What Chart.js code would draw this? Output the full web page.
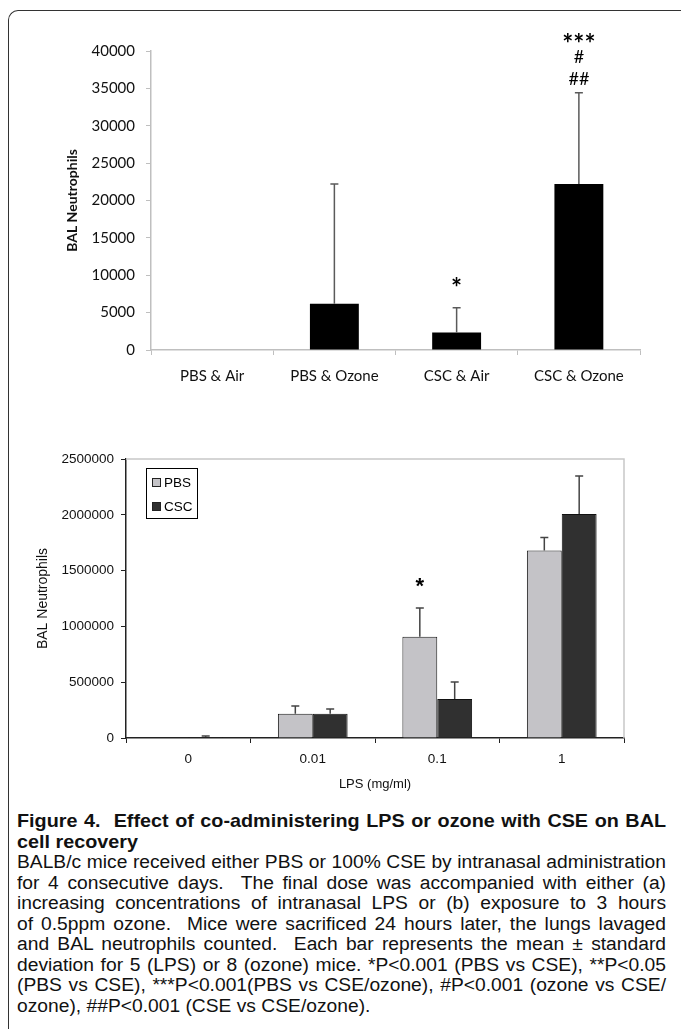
<!DOCTYPE html>
<html>
<head>
<meta charset="utf-8">
<script src="https://cdn.jsdelivr.net/npm/chart.js@4.4.1/dist/chart.umd.min.js"></script>
<style>
  html, body { margin: 0; padding: 0; background: #fff; }
  body { width: 681px; height: 1029px; position: relative; overflow: hidden; }
  .frame { position: absolute; left: 8px; top: 10px; width: 720px; height: 1060px;
           border-left: 1.5px solid #333; border-top: 1.5px solid #333; border-top-left-radius: 10px; }
  #ozoneBox { position: absolute; left: 0; top: 0; width: 681px; height: 410px; }
  #lpsBox { position: absolute; left: 0; top: 420px; width: 681px; height: 380px; }
  /* police étroite simulée par un scaleX calculé plus bas */
  .caption { position: absolute; left: 17px; top: 811px; width: 649px;
             transform-origin: 0 0;
             font-family: "Liberation Sans", Arial, sans-serif;
             font-size: 18px; line-height: 20.5px; color: #111; }
  .caption div { text-align: justify; text-align-last: justify; white-space: nowrap; }
  .caption div.last { text-align-last: left; }
  .caption .head { font-weight: bold; font-size: 18.5px; }
  .caption span { display: inline-block; }
</style>
</head>
<body>
<div class="frame"></div>
<div id="ozoneBox"><canvas id="ozoneChart"></canvas></div>
<div id="lpsBox"><canvas id="lpsChart"></canvas></div>
<div class="caption" id="caption">
  <div class="head">Figure 4.&nbsp; Effect of co-administering LPS or ozone with CSE on BAL</div>
  <div class="head last">cell recovery</div>
  <div>BALB/c mice received either PBS or 100% CSE by intranasal administration</div>
  <div>for 4 consecutive days.&nbsp; The final dose was accompanied with either (a)</div>
  <div>increasing concentrations of intranasal LPS or (b) exposure to 3 hours</div>
  <div>of 0.5ppm ozone.&nbsp; Mice were sacrificed 24 hours later, the lungs lavaged</div>
  <div>and BAL neutrophils counted.&nbsp; Each bar represents the mean ± standard</div>
  <div>deviation for 5 (LPS) or 8 (ozone) mice. *P&lt;0.001 (PBS vs CSE), **P&lt;0.05</div>
  <div>(PBS vs CSE), ***P&lt;0.001(PBS vs CSE/ozone), #P&lt;0.001 (ozone vs CSE/</div>
  <div class="last">ozone), ##P&lt;0.001 (CSE vs CSE/ozone).</div>
</div>
<script>
// Données du graphique (a) : ozone
const ozoneLabels = ["PBS & Air", "PBS & Ozone", "CSC & Air", "CSC & Ozone"];
const ozoneMeans = [0, 6200, 2350, 22200];
const ozoneSD = [0, 16000, 3300, 12200];
const ozoneMarks = ["", "", "*", "***\n#\n##"];

// Données du graphique (b) : LPS
const lpsLabels = ["0", "0.01", "0.1", "1"];
const pbsMeans = [0, 218000, 907000, 1681000];
const pbsSD = [0, 69000, 258000, 116000];
const cscMeans = [8000, 218000, 349000, 2007000];
const cscSD = [9000, 42000, 153000, 341000];
const lpsMarks = ["", "", "*", ""];

// Ajuste la largeur de la légende : la ligne la plus longue remplit juste la colonne
(function fitCaption() {
    const cap = document.getElementById("caption");
    const colWidth = 649;
    let maxW = 0;
    cap.querySelectorAll("div").forEach(d => {
        const s = document.createElement("span");
        s.innerHTML = d.innerHTML;
        d.innerHTML = "";
        d.appendChild(s);
        maxW = Math.max(maxW, s.getBoundingClientRect().width);
        d.innerHTML = s.innerHTML;
    });
    const k = colWidth / (maxW + 2);
    cap.style.width = (colWidth / k) + "px";
    cap.style.transform = "scaleX(" + k + ")";
})();

// Barres d'erreur (vers le haut seulement)
const errorBars = {
    id: "errorBars",
    afterDatasetsDraw(chart, args, opts) {
        const ctx = chart.ctx;
        const y = chart.scales.y;
        chart.data.datasets.forEach((ds, i) => {
            if (!ds.errors) return;
            chart.getDatasetMeta(i).data.forEach((bar, j) => {
                const sd = ds.errors[j];
                if (!sd) return;
                const top = y.getPixelForValue(ds.data[j] + sd);
                ctx.save();
                ctx.strokeStyle = opts.color;
                ctx.lineWidth = opts.width;
                ctx.beginPath();
                ctx.moveTo(bar.x, bar.y);
                ctx.lineTo(bar.x, top);
                ctx.moveTo(bar.x - opts.cap, top);
                ctx.lineTo(bar.x + opts.cap, top);
                ctx.stroke();
                ctx.restore();
            });
        });
    }
};

// Marques de significativité au-dessus des barres
const sigMarks = {
    id: "sigMarks",
    afterDatasetsDraw(chart, args, opts) {
        const ctx = chart.ctx;
        const y = chart.scales.y;
        const ds = chart.data.datasets[opts.dataset];
        const meta = chart.getDatasetMeta(opts.dataset);
        ctx.save();
        ctx.fillStyle = "#000";
        ctx.textAlign = "center";
        ctx.textBaseline = "middle";
        opts.marks.forEach((m, j) => {
            if (!m) return;
            const bar = meta.data[j];
            const top = y.getPixelForValue(ds.data[j] + (ds.errors[j] || 0));
            m.split("\n").forEach(line => {
                ctx.font = line.includes("*") ? opts.starFont : opts.hashFont;
                ctx.fillText(line, bar.x, top - opts.lift[line]);
            });
        });
        ctx.restore();
    }
};

// Légende encadrée dans la zone du graphique
const boxLegend = {
    id: "boxLegend",
    afterDraw(chart, args, opts) {
        const ctx = chart.ctx;
        const a = chart.chartArea;
        const x0 = a.left + 20, y0 = a.top + 9;
        ctx.save();
        ctx.strokeStyle = "#000";
        ctx.lineWidth = 1;
        ctx.strokeRect(x0 + 0.5, y0 + 0.5, 51, 50);
        ctx.font = opts.font;
        ctx.textBaseline = "middle";
        chart.data.datasets.forEach((ds, i) => {
            const cy = y0 + 14 + i * 24;
            ctx.fillStyle = ds.backgroundColor;
            ctx.fillRect(x0 + 6, cy - 4, 8, 8);
            ctx.strokeStyle = "#222";
            ctx.strokeRect(x0 + 6.5, cy - 3.5, 8, 8);
            ctx.fillStyle = "#000";
            ctx.fillText(ds.label, x0 + 18, cy + 1);
        });
        ctx.restore();
    }
};

// Cadre gris (haut et droite) de la zone de tracé
const plotFrame = {
    id: "plotFrame",
    beforeDatasetsDraw(chart) {
        const ctx = chart.ctx;
        const a = chart.chartArea;
        ctx.save();
        ctx.strokeStyle = "#c8c8c8";
        ctx.lineWidth = 1.5;
        ctx.beginPath();
        ctx.moveTo(a.left, a.top);
        ctx.lineTo(a.right, a.top);
        ctx.lineTo(a.right, a.bottom);
        ctx.stroke();
        ctx.restore();
    }
};

Chart.defaults.animation = false;

// Pas de séparateur de milliers
const plainNumber = v => String(v);

new Chart(document.getElementById("ozoneChart"), {
    type: "bar",
    data: {
        labels: ozoneLabels,
        datasets: [{
            data: ozoneMeans,
            errors: ozoneSD,
            backgroundColor: "#000",
            borderWidth: 0,
            barPercentage: 1,
            categoryPercentage: 0.4
        }]
    },
    options: {
        responsive: true,
        maintainAspectRatio: false,
        layout: { padding: { top: 51, right: 41, bottom: 0, left: 0 } },
        plugins: {
            legend: { display: false },
            tooltip: { enabled: false },
            errorBars: { color: "#5a5a5a", width: 1.5, cap: 4 },
            sigMarks: {
                dataset: 0,
                marks: ozoneMarks,
                starFont: "bold 26px Lato",
                hashFont: "18px Lato",
                lift: { "*": 19, "##": 14, "#": 36, "***": 48 }
            }
        },
        scales: {
            x: {
                grid: { drawOnChartArea: false, drawTicks: true, tickLength: 5, color: "#bfbfbf" },
                border: { color: "#bfbfbf", width: 1.5 },
                ticks: { color: "#111", font: { family: "Lato", size: 15 }, padding: 12 },
                afterFit: s => { s.height = 60; }
            },
            y: {
                min: 0,
                max: 40000,
                ticks: { stepSize: 5000, color: "#111", font: { family: "Lato", size: 15 }, padding: 11, callback: plainNumber },
                grid: { drawOnChartArea: false, drawTicks: true, tickLength: 5, color: "#bfbfbf" },
                border: { color: "#bfbfbf", width: 1.5 },
                title: {
                    display: true,
                    text: "BAL Neutrophils",
                    color: "#111",
                    font: { family: "Lato", size: 14, weight: "bold" },
                    padding: { top: 63.6, bottom: 0 }
                },
                afterFit: s => { s.width = 151; }
            }
        }
    },
    plugins: [errorBars, sigMarks]
});

new Chart(document.getElementById("lpsChart"), {
    type: "bar",
    data: {
        labels: lpsLabels,
        datasets: [{
            label: "PBS",
            data: pbsMeans,
            errors: pbsSD,
            backgroundColor: "#c4c3c7",
            borderColor: "#1a1a1a",
            borderWidth: 1,
            barPercentage: 1,
            categoryPercentage: 0.56
        }, {
            label: "CSC",
            data: cscMeans,
            errors: cscSD,
            backgroundColor: "#303030",
            borderColor: "#111",
            borderWidth: 1,
            barPercentage: 1,
            categoryPercentage: 0.56
        }]
    },
    options: {
        responsive: true,
        maintainAspectRatio: false,
        layout: { padding: { top: 39, right: 57, bottom: 0, left: 0 } },
        plugins: {
            legend: { display: false },
            tooltip: { enabled: false },
            errorBars: { color: "#444", width: 1.5, cap: 4 },
            sigMarks: {
                dataset: 0,
                marks: lpsMarks,
                starFont: "bold 22px 'Liberation Sans'",
                hashFont: "18px 'Liberation Sans'",
                lift: { "*": 21 }
            },
            boxLegend: { font: "13.5px 'Liberation Sans'" }
        },
        scales: {
            x: {
                grid: { drawOnChartArea: false, drawTicks: true, tickLength: 5, color: "#222" },
                border: { color: "#222", width: 1.5 },
                ticks: { color: "#111", font: { family: "Liberation Sans", size: 13.5 }, padding: 8 },
                title: {
                    display: true,
                    text: "LPS (mg/ml)",
                    color: "#111",
                    font: { family: "Liberation Sans", size: 13 },
                    padding: { top: 0, bottom: 8 }
                },
                afterFit: s => { s.height = 62; }
            },
            y: {
                min: 0,
                max: 2500000,
                ticks: { stepSize: 500000, color: "#111", font: { family: "Liberation Sans", size: 13.5 }, padding: 7, callback: plainNumber },
                grid: { drawOnChartArea: false, drawTicks: true, tickLength: 5, color: "#222" },
                border: { color: "#222", width: 1.5 },
                title: {
                    display: true,
                    text: "BAL Neutrophils",
                    color: "#111",
                    font: { family: "Liberation Sans", size: 14 },
                    padding: { top: 35, bottom: 0 }
                },
                afterFit: s => { s.width = 126; }
            }
        }
    },
    plugins: [plotFrame, errorBars, sigMarks, boxLegend]
});
</script>
</body>
</html>
